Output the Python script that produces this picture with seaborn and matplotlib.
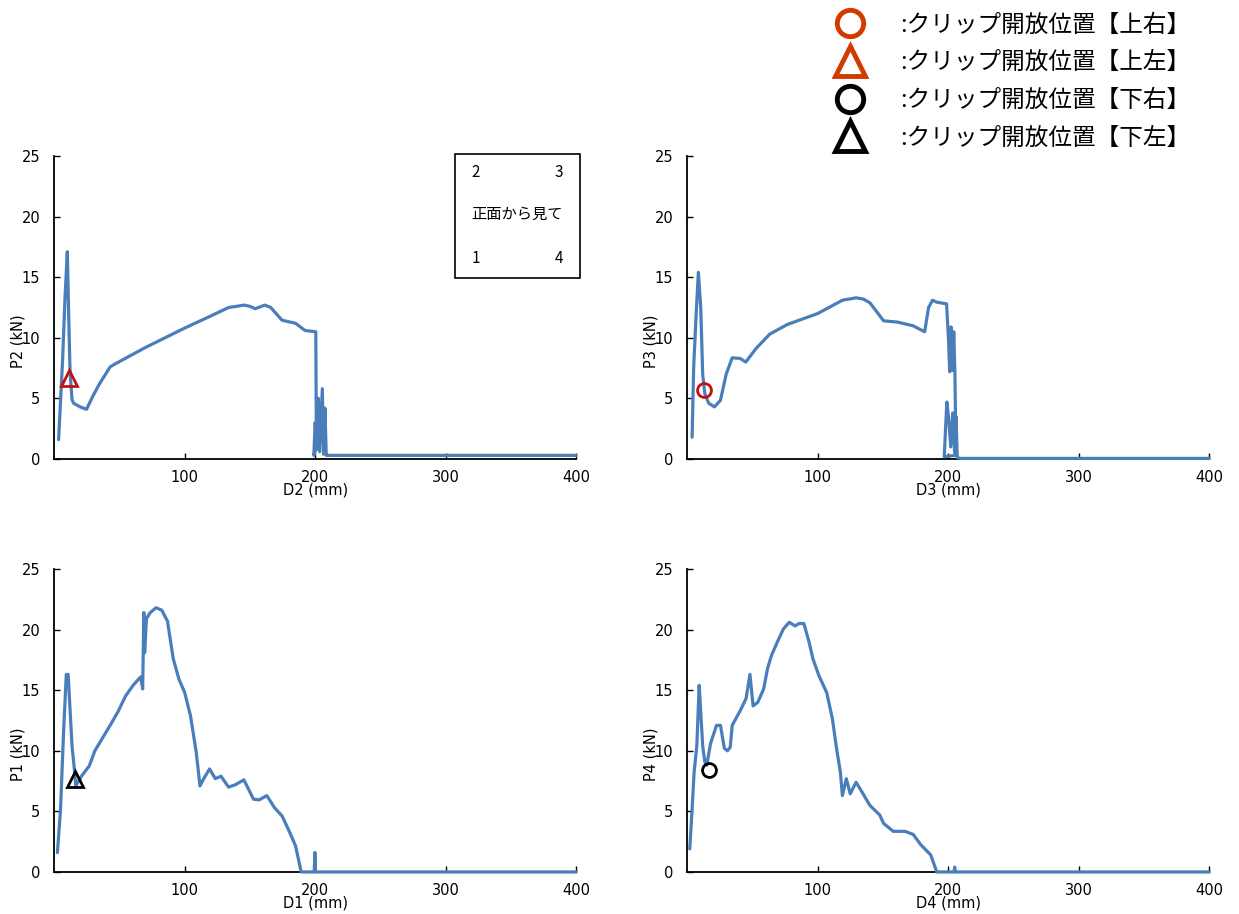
import numpy as np
import pandas as pd
import seaborn as sns
import matplotlib.pyplot as plt
from matplotlib.lines import Line2D
from matplotlib.patches import Rectangle

# P2 - D2 (top left)
d2 = [3.5, 6.5, 8.5, 10.2, 11.2, 12.3, 13.8, 15.0, 16.7, 20.0, 24.9, 29.8, 34.8, 43.0, 46.0,
      70.0, 100.0, 120.0, 133.7, 140.0, 145.5, 150.0, 154.0, 161.5, 166.0, 174.7, 185.0,
      192.3, 200.5, 201.0, 199.0, 200.0, 201.5, 202.5, 203.5, 205.5, 206.5, 207.5, 208.5,
      210.0, 400.0]
p2 = [1.6, 8.0, 13.5, 17.1, 12.0, 7.1, 4.9, 4.6, 4.5, 4.3, 4.1, 5.2, 6.2, 7.6, 7.8,
      9.2, 10.8, 11.8, 12.5, 12.6, 12.7, 12.6, 12.4, 12.7, 12.5, 11.45, 11.2,
      10.6, 10.5, 1.0, 0.3, 3.0, 0.8, 5.0, 0.6, 5.8, 0.4, 4.2, 0.3,
      0.3, 0.3]

# P3 - D3 (top right)
d3 = [3.9, 5.1, 7.0, 8.7, 10.5, 12.0, 13.6, 16.6, 21.0, 25.6, 30.0, 34.6, 40.7, 45.0,
      52.7, 63.3, 76.8, 100.0, 119.0, 129.5, 135.0, 140.0, 150.6, 161.0, 173.0, 182.0,
      185.0, 188.0, 191.0, 198.8, 200.3, 201.2, 202.3, 203.3, 204.3, 205.2, 206.0,
      197.0, 199.0, 200.5, 202.0, 203.5, 205.0, 206.0, 207.0, 210.0, 400.0]
p3 = [1.8, 7.6, 12.0, 15.4, 12.5, 7.0, 5.4, 4.6, 4.3, 4.85, 7.0, 8.35, 8.3, 8.0,
      9.1, 10.3, 11.1, 12.0, 13.1, 13.3, 13.2, 12.9, 11.4, 11.3, 11.0, 10.5,
      12.5, 13.1, 12.95, 12.8, 9.8, 7.2, 10.9, 7.3, 10.5, 7.0, 0.3,
      0.2, 4.7, 3.2, 1.0, 3.8, 0.5, 3.5, 0.1, 0.05, 0.05]

# P1 - D1 (bottom left)
d1 = [2.6, 5.0, 7.3, 9.4, 10.8, 13.8, 16.1, 16.7, 21.0, 27.0, 31.3, 43.0, 48.9, 54.7,
      60.6, 66.4, 67.9, 68.8, 69.4, 70.8, 73.7, 78.1, 82.5, 86.9, 91.3, 95.7, 100.1,
      104.5, 108.9, 111.8, 114.7, 119.1, 123.5, 127.9, 133.7, 139.0, 145.4, 152.8, 157.2,
      163.0, 168.9, 174.8, 180.6, 185.0, 189.3, 199.3, 199.8, 200.3, 400.0]
p1 = [1.6, 5.2, 11.5, 16.3, 16.3, 10.4, 7.9, 7.1, 7.9, 8.75, 10.0, 12.1, 13.2, 14.5,
      15.4, 16.1, 15.1, 21.4, 18.1, 20.9, 21.4, 21.8, 21.6, 20.7, 17.6, 15.9, 14.8,
      12.9, 9.9, 7.1, 7.7, 8.5, 7.7, 7.9, 7.0, 7.2, 7.6, 6.0, 5.95,
      6.3, 5.3, 4.6, 3.25, 2.15, 0.0, 0.0, 1.6, 0.0, 0.0]

# P4 - D4 (bottom right)
d4 = [2.1, 3.9, 5.4, 7.5, 9.3, 10.5, 12.0, 13.6, 15.1, 18.0, 22.6, 25.6, 28.6, 31.0,
      33.1, 34.6, 40.7, 45.2, 48.2, 50.6, 54.2, 58.7, 61.7, 64.8, 69.3, 73.8, 78.3,
      82.8, 85.8, 89.5, 93.4, 96.4, 101.0, 107.0, 111.4, 114.5, 117.5, 119.0, 122.0,
      125.0, 129.5, 134.0, 140.0, 147.6, 150.6, 158.0, 167.0, 173.2, 179.0, 186.7,
      191.3, 204.5, 205.0, 205.5, 400.0]
p4 = [1.9, 5.2, 8.2, 10.4, 15.4, 13.2, 10.4, 9.1, 8.8, 10.6, 12.1, 12.1, 10.2, 10.0,
      10.3, 12.1, 13.3, 14.3, 16.3, 13.7, 14.0, 15.1, 16.8, 17.9, 19.0, 20.05, 20.6,
      20.3, 20.5, 20.5, 19.0, 17.6, 16.2, 14.8, 12.6, 10.2, 8.2, 6.3, 7.7,
      6.45, 7.4, 6.6, 5.5, 4.7, 4.0, 3.35, 3.35, 3.1, 2.25, 1.4,
      0.0, 0.0, 0.4, 0.0, 0.0]

# clip opening points
clip_d = [11.7, 13.0, 15.8, 16.6]
clip_p = [6.65, 5.7, 7.65, 8.4]

legend_labels = [':クリップ開放位置【上右】', ':クリップ開放位置【上左】',
                 ':クリップ開放位置【下右】', ':クリップ開放位置【下左】']

line_color = '#4a7ebb'
red_mark = '#c41010'
red_legend = '#d13b00'

sns.set_style('ticks')
plt.rcParams['font.family'] = ['DejaVu Sans', 'Noto Sans CJK JP']
plt.rcParams['text.color'] = 'black'
plt.rcParams['axes.labelcolor'] = 'black'
plt.rcParams['xtick.color'] = 'black'
plt.rcParams['ytick.color'] = 'black'
cjk = ['Noto Sans CJK JP', 'DejaVu Sans']

fig = plt.figure(figsize=(12.39, 9.14), dpi=100)

panels = [
    # (left, bottom, x, y, xlabel, ylabel, marker index, marker shape, marker color)
    (0.0436, 0.4978, d2, p2, 'D2 (mm)', 'P2 (kN)', 0, '^', red_mark),
    (0.5545, 0.4978, d3, p3, 'D3 (mm)', 'P3 (kN)', 1, 'o', red_mark),
    (0.0436, 0.0460, d1, p1, 'D1 (mm)', 'P1 (kN)', 2, '^', 'black'),
    (0.5545, 0.0460, d4, p4, 'D4 (mm)', 'P4 (kN)', 3, 'o', 'black'),
]

axes = []
for left, bottom, xs, ys, xl, yl, mi, mk, mc in panels:
    ax = fig.add_axes([left, bottom, 0.4215, 0.3315])
    df = pd.DataFrame({'d': xs, 'p': ys})
    sns.lineplot(data=df, x='d', y='p', sort=False, estimator=None, color=line_color,
                 linewidth=2.3, ax=ax, zorder=3, clip_on=False)
    ax.plot(clip_d[mi], clip_p[mi], marker=mk, markersize=10 if mk == 'o' else 12,
            markerfacecolor='none', markeredgecolor=mc, markeredgewidth=2, zorder=4)
    ax.set_xlim(0, 400)
    ax.set_ylim(0, 25)
    ax.set_xticks([100, 200, 300, 400])
    ax.set_yticks([0, 5, 10, 15, 20, 25])
    ax.tick_params(axis='x', direction='in', length=4, width=1, labelsize=10.5, pad=8)
    ax.tick_params(axis='y', direction='in', length=4, width=1, labelsize=10.5, pad=10)
    sns.despine(ax=ax)
    for s in ['left', 'bottom']:
        ax.spines[s].set_color('black')
        ax.spines[s].set_linewidth(1.3)
    ax.set_xlabel(xl, fontsize=10.5)
    ax.set_ylabel(yl, fontsize=10.5)
    ax.xaxis.set_label_coords(0.5, -0.078)
    ax.yaxis.set_label_coords(-0.055, 0.39)
    axes.append(ax)

# orientation box in the P2 panel
ax = axes[0]
ax.add_patch(Rectangle((0.767, 0.599), 0.241, 0.408, transform=ax.transAxes,
                       fill=False, edgecolor='black', linewidth=1.2, clip_on=False))
for tx, ty, s in [(0.807, 0.944, '2'), (0.966, 0.944, '3'), (0.807, 0.661, '1'),
                  (0.966, 0.661, '4'), (0.887, 0.806, '正面から見て')]:
    ax.text(tx, ty, s, transform=ax.transAxes, ha='center', va='center',
            fontsize=11, family=cjk)

handles = [
    Line2D([], [], linestyle='none', marker='o', markersize=19, markerfacecolor='none',
           markeredgecolor=red_legend, markeredgewidth=3.5),
    Line2D([], [], linestyle='none', marker='^', markersize=21, markerfacecolor='none',
           markeredgecolor=red_legend, markeredgewidth=3.5),
    Line2D([], [], linestyle='none', marker='o', markersize=19, markerfacecolor='none',
           markeredgecolor='black', markeredgewidth=3.5),
    Line2D([], [], linestyle='none', marker='^', markersize=21, markerfacecolor='none',
           markeredgecolor='black', markeredgewidth=3.5),
]
fig.legend(handles, legend_labels, loc='upper left', bbox_to_anchor=(0.663, 0.998),
           frameon=False, borderpad=0, handlelength=1.4, handletextpad=1.42,
           labelspacing=0.62, prop={'family': cjk, 'size': 17})

fig.savefig('out.png', dpi=100)
